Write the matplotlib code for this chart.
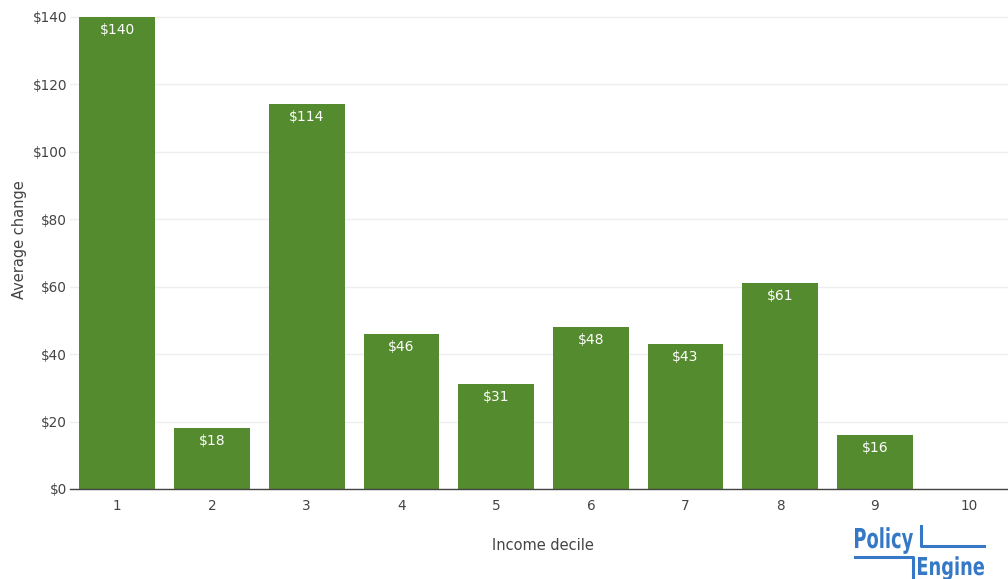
import matplotlib.pyplot as plt
import matplotlib.lines as mlines
from matplotlib.textpath import TextPath
from matplotlib.patches import PathPatch
from matplotlib.font_manager import FontProperties
from matplotlib.transforms import Affine2D

deciles = [1, 2, 3, 4, 5, 6, 7, 8, 9, 10]
avg_change = [140, 18, 114, 46, 31, 48, 43, 61, 16, 0]
y_ticks = [0, 20, 40, 60, 80, 100, 120, 140]

W, H = 1008, 579
fig = plt.figure(figsize=(W / 100, H / 100), dpi=100)
# plot area in pixels: left 70, right 1017 (slightly past the edge), top 10, bottom 489
left, right, top, bottom = 70, 1017, 10, 489
ax = fig.add_axes([left / W, (H - bottom) / H, (right - left) / W, (bottom - top) / H])

bar_color = '#558b2f'
text_color = '#444444'

ax.bar(deciles, avg_change, width=0.8, color=bar_color, zorder=2)
for x, v in zip(deciles, avg_change):
    if v > 0:
        ax.annotate(f'${v}', (x, v), xytext=(0, -13), textcoords='offset pixels',
                    ha='center', va='center', color='white', fontsize=10)

ax.set_xlim(0.5, 10.5)
ax.set_ylim(0, 142)
ax.set_xticks(deciles)
ax.set_xticklabels([str(d) for d in deciles])
ax.set_yticks(y_ticks)
ax.set_yticklabels([f'${t}' for t in y_ticks])
ax.tick_params(axis='both', length=0, colors=text_color, labelsize=9.8)
ax.tick_params(axis='x', pad=7)
ax.tick_params(axis='y', pad=2)
ax.grid(axis='y', color='#eeeeee', linewidth=1, zorder=0)
for s in ['top', 'right', 'left']:
    ax.spines[s].set_visible(False)
ax.spines['bottom'].set_color(text_color)
ax.spines['bottom'].set_linewidth(1)
ax.spines['bottom'].set_zorder(3)

fig.text(20 / W, 1 - 240 / H, 'Average change', rotation=90, ha='center', va='center',
         color=text_color, fontsize=10.5)
fig.text(543 / W, 1 - 545 / H, 'Income decile', ha='center', va='center',
         color=text_color, fontsize=10.5)

# PolicyEngine logo: bold text squeezed into pixel boxes so it looks condensed
logo = '#3478c6'
fp = FontProperties(family='DejaVu Sans', weight='bold')
px = Affine2D().scale(1 / W, 1 / H) + fig.transFigure


def logo_text(s, x0, x1, y_base, cap_h):
    path = TextPath((0, 0), s, size=10, prop=fp)
    ext = path.get_extents()
    cap = TextPath((0, 0), 'P', size=10, prop=fp).get_extents().height
    tr = Affine2D().translate(-ext.x0, 0).scale((x1 - x0) / ext.width, cap_h / cap)
    tr = tr.translate(x0, H - y_base)
    fig.add_artist(PathPatch(tr.transform_path(path), color=logo, lw=0, transform=px))


logo_text('Policy', 855, 913, 548, 20)
logo_text('Engine', 918, 984, 575, 18)
for xs, ys in [([921, 921, 984], [526, 546, 546]), ([855, 913, 913], [557, 557, 577])]:
    fig.add_artist(mlines.Line2D([x / W for x in xs], [1 - y / H for y in ys],
                                 color=logo, linewidth=2.2, transform=fig.transFigure))

fig.savefig('out.png', dpi=100)
